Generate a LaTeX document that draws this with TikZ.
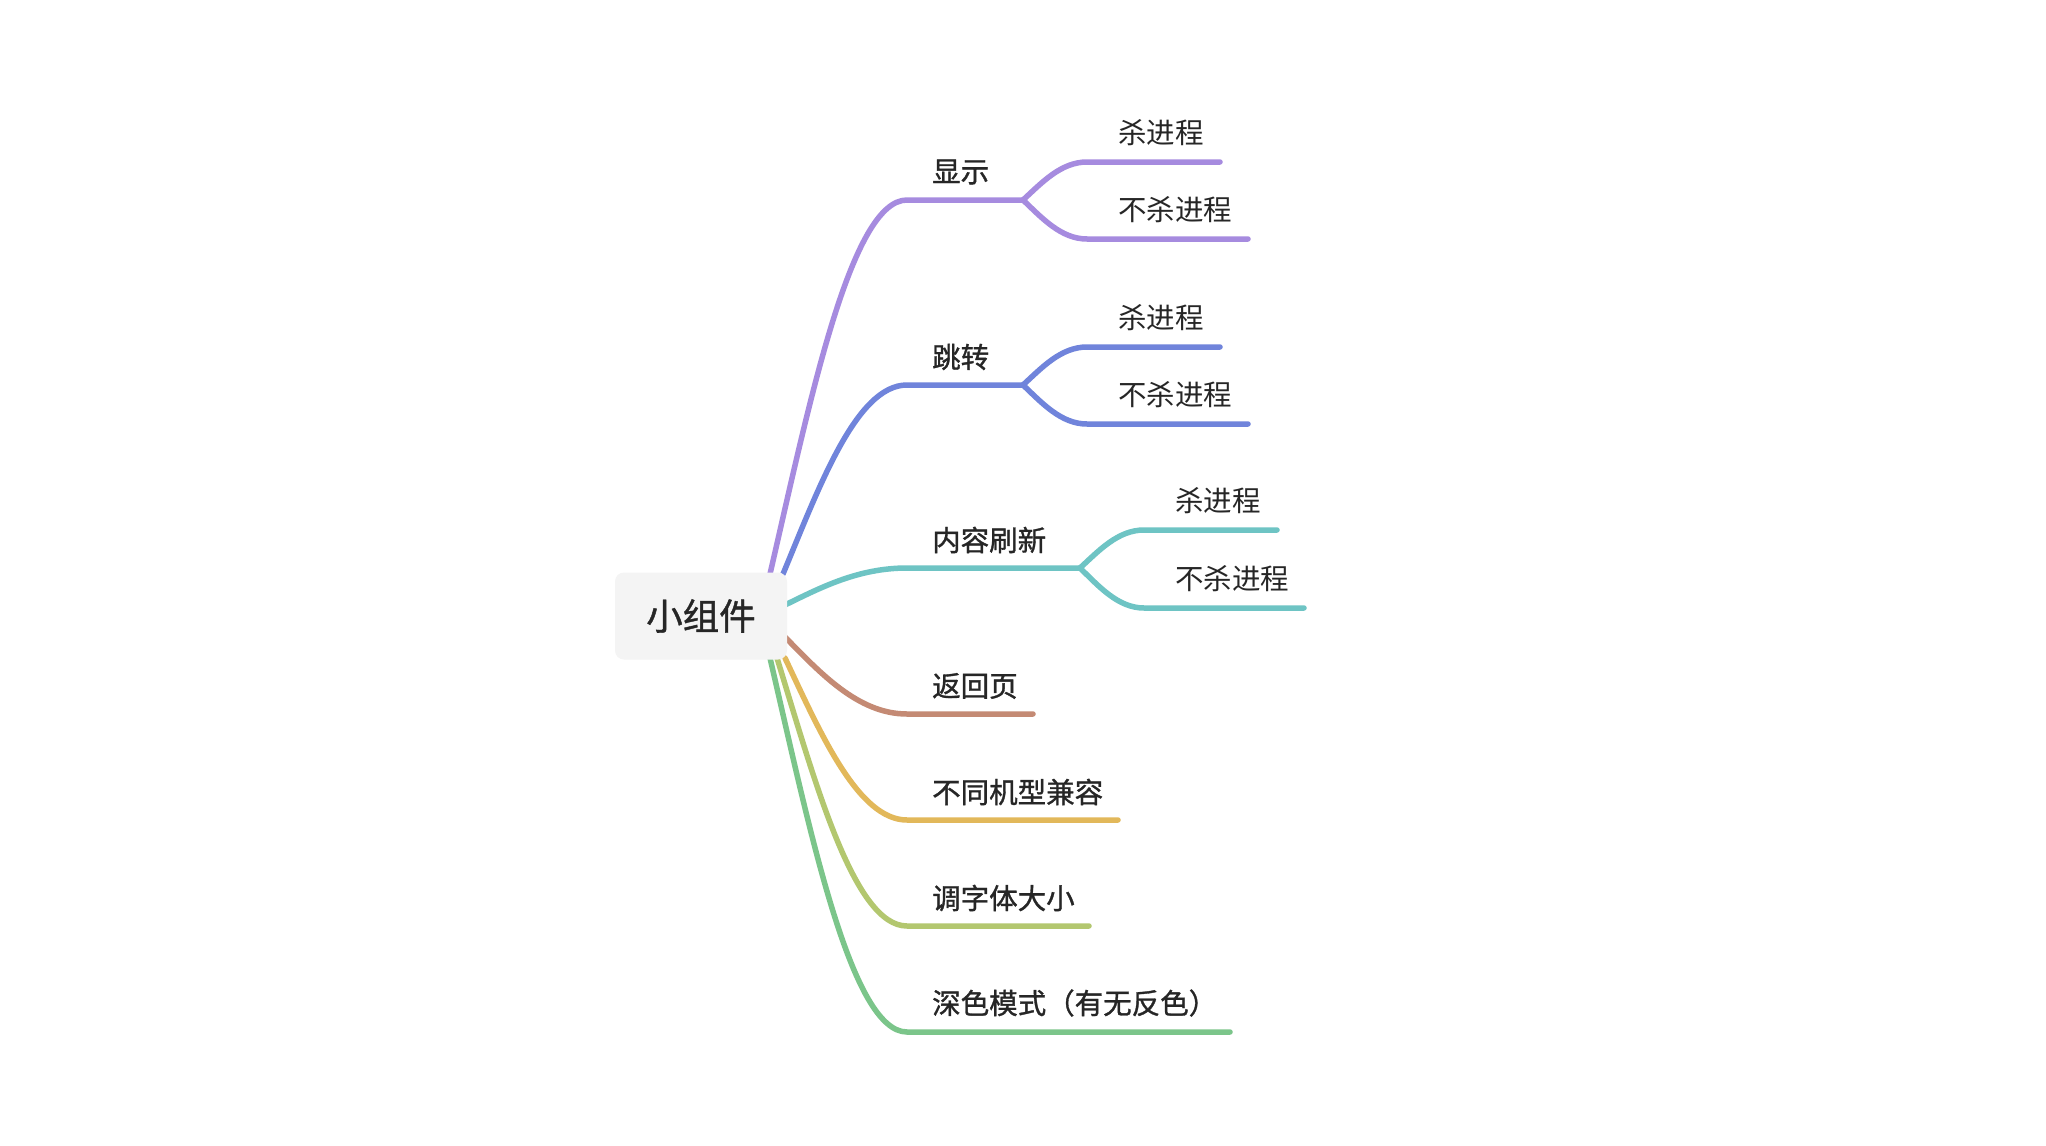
\documentclass[tikz,border=0pt]{standalone}
\usepackage{fontspec}
\setmainfont{Noto Sans CJK SC}
\newfontfamily\medfont{Noto Sans CJK SC}[FakeBold=1.1]
\definecolor{cPur}{HTML}{A68BDF}
\definecolor{cBlu}{HTML}{7084DB}
\definecolor{cTea}{HTML}{6EC4C4}
\definecolor{cBro}{HTML}{C48A74}
\definecolor{cYel}{HTML}{E2B85A}
\definecolor{cYgr}{HTML}{B3C76F}
\definecolor{cGre}{HTML}{7BC58A}
\definecolor{rootbg}{HTML}{F4F4F4}
\definecolor{txt}{HTML}{262626}
\begin{document}
\begin{tikzpicture}[x=1pt,y=-1pt,
  br/.style={line width=5.5pt, line cap=round},
  mainlbl/.style={anchor=west, inner sep=0pt, text=txt, font=\medfont\fontsize{28.5}{30}\selectfont},
  sublbl/.style={anchor=west, inner sep=0pt, text=txt, font=\fontsize{28.5}{30}\selectfont},
  rootbox/.style={fill=rootbg, rounded corners=9pt, minimum width=172pt, minimum height=87pt, inner sep=0pt, text=txt, font=\medfont\fontsize{36.5}{38}\selectfont}]
\useasboundingbox (0,0) rectangle (2046,1146);
\fill[white] (0,0) rectangle (2046,1146);

% root attach points
\coordinate (a1) at (770,574);
\coordinate (a2) at (783,574);
\coordinate (a3) at (785,605);
\coordinate (a4) at (785,637);
\coordinate (a5) at (785,658);
\coordinate (a6) at (777,658);
\coordinate (a7) at (770,658);
% curve ends
\coordinate (e1) at (907,200);
\coordinate (e2) at (907,385);
\coordinate (e3) at (907,568);
\coordinate (e4) at (907,714);
\coordinate (e5) at (907,820);
\coordinate (e6) at (907,926);
\coordinate (e7) at (907,1032);
% line ends / splits
\coordinate (s1) at (1023,200);
\coordinate (s2) at (1023,385);
\coordinate (s3) at (1080,568);
\coordinate (s4) at (1033,714);
\coordinate (s5) at (1118,820);
\coordinate (s6) at (1089,926);
\coordinate (s7) at (1230,1032);
% children
\coordinate (k1a) at (1087,162);  \coordinate (t1a) at (1220,162);
\coordinate (k1b) at (1087,239);  \coordinate (t1b) at (1248,239);
\coordinate (k2a) at (1087,347);  \coordinate (t2a) at (1220,347);
\coordinate (k2b) at (1087,424);  \coordinate (t2b) at (1248,424);
\coordinate (k3a) at (1144,530);  \coordinate (t3a) at (1277,530);
\coordinate (k3b) at (1144,608);  \coordinate (t3b) at (1304,608);

% level-1 connectors
\draw[br,cPur] (a1) .. controls +(39.7,-171.6) and +(-56.2,0) .. (e1) -- (s1);
\draw[br,cBlu] (a2) .. controls +(36,-86.5) and +(-50.8,0) .. (e2) -- (s2);
\draw[br,cTea] (a3) .. controls +(34.8,-17) and +(-49.2,0) .. (e3) -- (s3);
\draw[br,cBro] (a4) .. controls +(34.8,35.4) and +(-49.2,0) .. (e4) -- (s4);
\draw[br,cYel] (a5) .. controls +(34.8,73.6) and +(-49.2,0) .. (e5) -- (s5);
\draw[br,cYgr] (a6) .. controls +(37.7,122.4) and +(-53.3,0) .. (e6) -- (s6);
\draw[br,cGre] (a7) .. controls +(39.7,171) and +(-56.2,0) .. (e7) -- (s7);

% level-2 connectors
\draw[br,cPur] (s1) .. controls +(19,-17.5) and +(-26,0) .. (k1a) -- (t1a);
\draw[br,cPur] (s1) .. controls +(19,18) and +(-26,0) .. (k1b) -- (t1b);
\draw[br,cBlu] (s2) .. controls +(19,-17.5) and +(-26,0) .. (k2a) -- (t2a);
\draw[br,cBlu] (s2) .. controls +(19,18) and +(-26,0) .. (k2b) -- (t2b);
\draw[br,cTea] (s3) .. controls +(19,-17.5) and +(-26,0) .. (k3a) -- (t3a);
\draw[br,cTea] (s3) .. controls +(19,18.4) and +(-26,0) .. (k3b) -- (t3b);

% root
\node[rootbox] (root) at (701,616) {小组件};

% level-1 labels
\node[mainlbl] (l1) at (932,172) {显示};
\node[mainlbl] (l2) at (932,357) {跳转};
\node[mainlbl] (l3) at (932,540) {内容刷新};
\node[mainlbl] (l4) at (932,686) {返回页};
\node[mainlbl] (l5) at (932,792) {不同机型兼容};
\node[mainlbl] (l6) at (932,898) {调字体大小};
\node[mainlbl] (l7) at (932,1003) {深色模式（有无反色）};

% level-2 labels
\node[sublbl] (m1a) at (1118,133) {杀进程};
\node[sublbl] (m1b) at (1118,210) {不杀进程};
\node[sublbl] (m2a) at (1118,318) {杀进程};
\node[sublbl] (m2b) at (1118,395) {不杀进程};
\node[sublbl] (m3a) at (1175,501) {杀进程};
\node[sublbl] (m3b) at (1175,579) {不杀进程};
\end{tikzpicture}
\end{document}
